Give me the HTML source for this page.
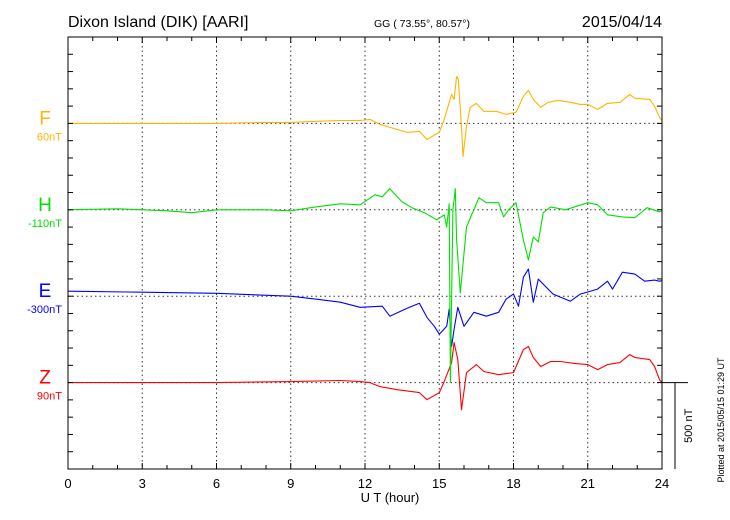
<!DOCTYPE html>
<html><head><meta charset="utf-8"><style>
html,body{margin:0;padding:0;background:#fff;width:730px;height:520px;overflow:hidden}
svg{display:block;font-family:"Liberation Sans",sans-serif}
</style></head><body>
<svg id="chart" width="730" height="520" viewBox="0 0 730 520">
<text x="68" y="27" font-size="16">Dixon Island (DIK)  [AARI]</text>
<text x="422" y="27" font-size="10.5" text-anchor="middle">GG ( 73.55°,  80.57°)</text>
<text x="662" y="27" font-size="16" text-anchor="end">2015/04/14</text>
<text x="390" y="502" font-size="13" text-anchor="middle">U T (hour)</text>
<text transform="translate(724,420) rotate(-90)" font-size="9" text-anchor="middle">Plotted at 2015/05/15 01:29 UT</text>
<g id="grid"></g><g id="series"></g><g id="axes"></g>
</svg>
<script>
const hours=[0,3,6,9,12,15,18,21,24];
const compNames=["F","H","E","Z"];
const compOffsets=["60nT","-110nT","-300nT","90nT"];
const compColors=["#FFB400","#00E000","#0000FF","#FF0000"];
const fT=[0,3,6,8,9,10,11,11.8,12.2,12.6,13.7,14.2,14.5,15,15.2,15.5,15.6,15.7,15.77,15.9,15.96,16.1,16.25,16.5,16.8,17.3,17.7,18.1,18.4,18.6,18.8,19.1,19.4,19.8,20.3,20.7,21,21.4,21.8,22.3,22.7,22.9,23.5,23.7,23.9,24];
const fV=[0,0,0,6,6,12,17,17,23,-6,-52,-46,-93,-52,23,168,139,272,255,-17,-191,-17,93,116,70,70,52,64,157,191,139,93,122,133,122,110,110,81,116,122,168,145,139,99,35,17];
const hT=[0,2,4,5,6,8,9,10,11,11.8,12.4,12.7,13,13.5,13.9,14.4,14.9,15.2,15.3,15.4,15.45,15.55,15.65,15.7,15.85,16.1,16.45,16.6,16.9,17.4,17.6,17.8,18.1,18.4,18.6,18.8,19,19.2,19.5,20.1,21,21.4,21.8,22.4,22.9,23.4,23.9,24];
const hV=[0,6,-6,-17,0,0,-6,17,35,29,87,75,122,46,12,-17,-58,-29,-99,35,-998,0,122,-174,-481,-99,17,70,41,41,-41,0,41,-174,-290,-157,-186,-17,17,0,41,29,-29,-41,-46,12,-12,-6];
const eT=[0,3,6,9,10,11,11.8,12.7,13,13.7,14.2,14.5,14.8,15,15.3,15.4,15.5,15.6,15.75,16,16.4,16.9,17.4,17.7,18,18.2,18.4,18.6,18.8,19,19.6,20.3,20.7,21.4,21.8,22,22.4,22.9,23.3,23.7,23.9,24];
const eV=[29,23,17,0,-17,-35,-64,-58,-116,-70,-41,-122,-174,-220,-174,-75,-290,-191,-64,-174,-93,-116,-93,-17,12,-58,110,157,-35,99,12,-29,12,41,87,41,139,128,87,93,87,90];
const zT=[0,6,9,11,11.8,12.2,12.6,13.3,14.2,14.5,15,15.2,15.5,15.6,15.75,15.9,16.1,16.5,16.8,17.4,18,18.4,18.6,18.8,19.1,19.5,19.9,20.5,21,21.4,21.8,22.3,22.7,22.9,23.5,23.7,23.9,24];
const zV=[0,0,6,12,6,0,-23,-41,-58,-99,-58,6,116,232,133,-157,58,104,64,46,58,191,209,145,93,122,122,110,104,75,104,116,162,145,133,93,17,0];

const L=68,R=662,T=37,B=469,pxPer100=(B-T)/25;
const baselines=[T+5*pxPer100,T+10*pxPer100,T+15*pxPer100,T+20*pxPer100];
const xS=h=>L+(h-0)/24*(R-L);
const yS=(v,i)=>baselines[i]-v/100*pxPer100;
const NS="http://www.w3.org/2000/svg";
function mk(tag,attrs,parent){const e=document.createElementNS(NS,tag);for(const k in attrs)e.setAttribute(k,attrs[k]);parent.appendChild(e);return e;}
const grid=document.getElementById('grid'),series=document.getElementById('series'),axes=document.getElementById('axes');
hours.slice(1,-1).forEach(h=>{const l=mk('line',{x1:xS(h),x2:xS(h),y1:T,y2:B,stroke:'#333','stroke-width':1,'stroke-dasharray':'1.5,3'},grid);

});
baselines.forEach((b,i)=>{const l=mk('line',{x1:L,x2:R,y1:b,y2:b,stroke:'#333','stroke-width':1,'stroke-dasharray':'1.5,3'},grid);

});
const sets=[[fT,fV],[hT,hV],[eT,eV],[zT,zV]];
[0,3,2,1].forEach(i=>{const [ts,vs]=sets[i];
const d=ts.map((t,k)=>(k?'L':'M')+xS(t).toFixed(1)+','+yS(vs[k],i).toFixed(1)).join('');
const p=mk('path',{d:d,fill:'none',stroke:compColors[i],'stroke-width':1.1,'stroke-linejoin':'round'},series);

});
compNames.forEach((n,i)=>{const t=mk('text',{x:45,y:baselines[i]+1,'font-size':19,fill:compColors[i],'text-anchor':'middle'},axes);t.textContent=n;


const o=mk('text',{x:62,y:baselines[i]+17,'font-size':11,fill:compColors[i],'text-anchor':'end'},axes);o.textContent=compOffsets[i];

});
const fr=mk('rect',{x:L,y:T,width:R-L,height:B-T,fill:'none',stroke:'#000','stroke-width':1},axes);


for(let k=1;k<25;k++){const y=T+k*pxPer100;
mk('line',{x1:L,x2:L+5,y1:y,y2:y,stroke:'#000'},axes);mk('line',{x1:R-5,x2:R,y1:y,y2:y,stroke:'#000'},axes);}
for(let h=1;h<24;h++){const x=xS(h),len=h%3?4:6;
mk('line',{x1:x,x2:x,y1:T,y2:T+len,stroke:'#000'},axes);mk('line',{x1:x,x2:x,y1:B-len,y2:B,stroke:'#000'},axes);}
hours.forEach(h=>{const t=mk('text',{x:xS(h),y:488,'font-size':13,'text-anchor':'middle'},axes);t.textContent=h;

});
mk('line',{x1:R,x2:688,y1:baselines[3],y2:baselines[3],stroke:'#000'},axes);
const sb=mk('line',{x1:675,x2:675,y1:baselines[3],y2:B,stroke:'#000'},axes);


const st=mk('text',{transform:'translate(692,'+((baselines[3]+B)/2)+') rotate(-90)','font-size':11,'text-anchor':'middle'},axes);st.textContent='500 nT';


</script>
</body></html>
